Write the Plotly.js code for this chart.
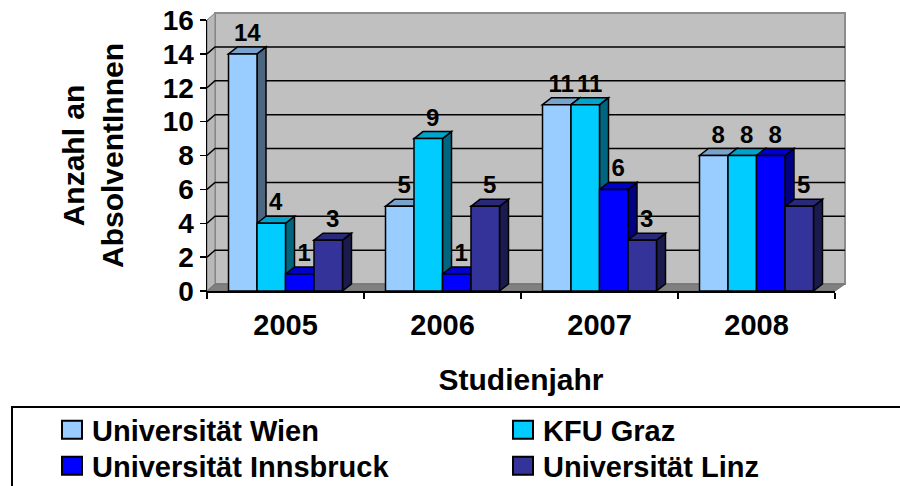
<!DOCTYPE html>
<html>
<head>
<meta charset="utf-8">
<script src="https://cdn.plot.ly/plotly-3.0.1.min.js"></script>
<style>html,body{margin:0;padding:0;background:#fff;}#chart{width:900px;height:486px;}</style>
</head>
<body>
<div id="chart"></div>
<script>
// ---- data ----
const categories = ['2005', '2006', '2007', '2008'];
const seriesNames = ['Universität Wien', 'KFU Graz', 'Universität Innsbruck', 'Universität Linz'];
const wien = [14, 5, 11, 8];
const graz = [4, 9, 11, 8];
const innsbruck = [1, 1, 6, 8];
const linz = [3, 5, 3, 5];
const yTicks = [0, 2, 4, 6, 8, 10, 12, 14, 16];
const xTitle = 'Studienjahr';
const yTitle = 'Anzahl an<br>AbsolventInnen';

// ---- style ----
const FONT = 'Liberation Sans, Arial, sans-serif';
const frontColors = ['#99CCFF', '#00CCFF', '#0000FF', '#333399'];
const topColors = ['#7AA3CC', '#00A3CC', '#0000CC', '#29297A'];
const sideColors = ['#4D6680', '#006680', '#000080', '#1A1A4D'];
const legendKeys = ['legend', 'legend2', 'legend3', 'legend4'];
const M = {l: 207, r: 65, t: 20, b: 195, autoexpand: false};
const PLOT_W = 900 - M.l - M.r;
const PLOT_H = 486 - M.t - M.b;
const BARGAP = 0.274;
const DEPTH_X = 9, DEPTH_Y = 7;       // px depth of the 3D look
const WALL_L = 8, WALL_R = 10;        // px offset of back wall

const series = [wien, graz, innsbruck, linz];
const idx = categories.map((c, i) => i);
const nS = series.length;
const xUnits = categories.length;      // range -0.5 .. n-0.5
const yMax = yTicks[yTicks.length - 1];
const dx = DEPTH_X / (PLOT_W / xUnits);
const dy = DEPTH_Y / (PLOT_H / yMax);
const bw = (1 - BARGAP) / nS;

const traces = [];
series.forEach((vals, s) => {
  traces.push({
    type: 'bar', name: seriesNames[s], x: idx, y: vals,
    marker: {color: frontColors[s], line: {color: '#000', width: 1.5}},
    legend: legendKeys[s], hoverinfo: 'skip'
  });
});
series.forEach((vals, s) => {
  traces.push({
    type: 'scatter', mode: 'text', showlegend: false, hoverinfo: 'skip',
    x: idx.map(i => i + (s - (nS - 1) / 2) * bw + dx / 2),
    y: vals.map(v => v + dy),
    text: vals.map(v => String(v)),
    textposition: 'top center',
    textfont: {family: FONT, size: 24, color: '#000', weight: 'bold'},
    cliponaxis: false
  });
});

// background walls (paper coords)
const wl = WALL_L / PLOT_W, wr = WALL_R / PLOT_W, wy = DEPTH_Y / PLOT_H;
const shapes = [
  {type: 'rect', xref: 'paper', yref: 'paper', layer: 'below',
   x0: wl, x1: 1 + wr, y0: wy, y1: 1 + wy,
   fillcolor: '#C0C0C0', line: {color: '#8C8C8C', width: 2}},
  {type: 'path', xref: 'paper', yref: 'paper', layer: 'below',
   path: `M0,0 L0,1 L${wl},${1 + wy} L${wl},${wy} Z`,
   fillcolor: '#B8B8B8', line: {color: '#808080', width: 1}},
  {type: 'path', xref: 'paper', yref: 'paper', layer: 'below',
   path: `M0,0 L1,0 L${1 + wr},${wy} L${wl},${wy} Z`,
   fillcolor: '#808080', line: {color: '#707070', width: 1}}
];
const gy = DEPTH_Y / (PLOT_H / yMax);
yTicks.filter(v => v > 0 && v < yMax).forEach(v => {
  shapes.push({type: 'path', xref: 'paper', yref: 'y', layer: 'below',
    path: `M0,${v} L${wl},${v + gy} L${1 + wr},${v + gy}`,
    line: {color: '#000', width: 1.5}});
});
// 3D side faces then top faces
series.forEach((vals, s) => {
  vals.forEach((v, i) => {
    const c = i + (s - (nS - 1) / 2) * bw;
    const R = c + bw / 2;
    shapes.push({type: 'path', xref: 'x', yref: 'y', layer: 'below',
      path: `M${R},0 L${R + dx},${dy} L${R + dx},${v + dy} L${R},${v} Z`,
      fillcolor: sideColors[s], line: {color: '#000', width: 1.5}});
  });
});
series.forEach((vals, s) => {
  vals.forEach((v, i) => {
    const c = i + (s - (nS - 1) / 2) * bw;
    const L = c - bw / 2, R = c + bw / 2;
    shapes.push({type: 'path', xref: 'x', yref: 'y', layer: 'below',
      path: `M${L},${v} L${L + dx},${v + dy} L${R + dx},${v + dy} L${R},${v} Z`,
      fillcolor: topColors[s], line: {color: '#000', width: 1.5}});
  });
});
// legend frame
shapes.push({type: 'rect', xref: 'paper', yref: 'paper', layer: 'above',
  x0: (12 - M.l) / PLOT_W, x1: (915 - M.l) / PLOT_W,
  y0: (M.t + PLOT_H - 407) / PLOT_H, y1: (M.t + PLOT_H - 500) / PLOT_H,
  line: {color: '#000', width: 2}, fillcolor: 'rgba(0,0,0,0)'});

const legFont = {family: FONT, size: 29, color: '#000', weight: 'bold'};
function leg(px, py) {
  return {x: (px - M.l) / PLOT_W, y: (M.t + PLOT_H - py) / PLOT_H,
    xanchor: 'left', yanchor: 'middle', bgcolor: 'rgba(0,0,0,0)',
    borderwidth: 0, font: legFont};
}

const layout = {
  width: 900, height: 486,
  margin: M,
  paper_bgcolor: '#fff', plot_bgcolor: 'rgba(0,0,0,0)',
  barmode: 'group', bargap: BARGAP, bargroupgap: 0,
  font: {family: FONT, color: '#000'},
  showlegend: true,
  legend: leg(52, 430), legend2: leg(503, 430),
  legend3: leg(52, 466), legend4: leg(503, 466),
  xaxis: {
    range: [-0.5, xUnits - 0.5], tickmode: 'array', tickvals: idx, ticktext: categories,
    ticks: '', showgrid: false, zeroline: false, showline: true,
    linecolor: '#000', linewidth: 1.5, ticklabelstandoff: 8,
    tickfont: {family: FONT, size: 29, color: '#000', weight: 'bold'},
    minor: {tickmode: 'array', tickvals: idx.map(i => i - 0.5).concat([xUnits - 0.5]),
      ticks: 'outside', ticklen: 6, tickcolor: '#000', tickwidth: 1.5, showgrid: false},
    title: {text: xTitle, standoff: 28, font: {family: FONT, size: 30, color: '#000', weight: 'bold'}},
    fixedrange: true
  },
  yaxis: {
    range: [0, yMax], tickmode: 'array', tickvals: yTicks,
    ticks: 'outside', ticklen: 6, tickcolor: '#000', tickwidth: 1.5,
    showgrid: false, zeroline: false, showline: true, linecolor: '#000', linewidth: 1.5,
    tickfont: {family: FONT, size: 28, color: '#000', weight: 'bold'},
    title: {text: yTitle, standoff: 30, font: {family: FONT, size: 30, color: '#000', weight: 'bold'}},
    fixedrange: true
  },
  shapes: shapes
};

function bigSwatches(gd) {
  gd.querySelectorAll('.legendpoints path').forEach(p => {
    p.setAttribute('d', 'M10,9H-10V-9H10Z');
    p.style.strokeWidth = '2px';
  });
}
Plotly.newPlot('chart', traces, layout, {displayModeBar: false, staticPlot: true}).then(gd => {
  bigSwatches(gd);
  requestAnimationFrame(() => bigSwatches(gd));
  setTimeout(() => bigSwatches(gd), 50);
});
</script>
</body>
</html>
